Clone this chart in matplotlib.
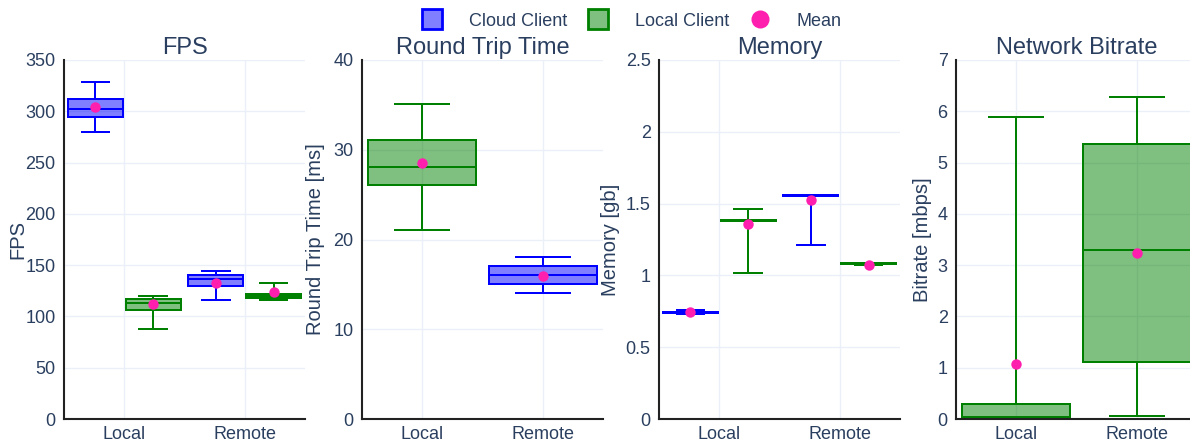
import matplotlib
matplotlib.use("Agg")
import matplotlib.pyplot as plt
from matplotlib.lines import Line2D

# ---------------- data ----------------
categories = ["Local", "Remote"]
stat_order = ["whislo", "q1", "med", "q3", "whishi"]

# FPS: per category [whislo, q1, med, q3, whishi]
fps_cloud = [[280, 294.7, 302.2, 312, 328.2], [115.9, 129.6, 136.1, 140, 143.9]]
fps_cloud_mean = [303.8, 132.5]
fps_local = [[87.6, 105.8, 112.7, 116.9, 119.5], [115.6, 117.5, 119.8, 121.8, 132.2]]
fps_local_mean = [111.7, 124.1]

# Round trip time: Local only measured with local client, Remote with cloud client
rtt_local = [[21.1, 26.1, 28.1, 31.1, 35.1]]
rtt_local_mean = [28.5]
rtt_cloud = [[14.06, 15.07, 16.1, 17.08, 18.08]]
rtt_cloud_mean = [15.9]

# Memory
mem_cloud = [[0.728, 0.741, 0.744, 0.747, 0.760], [1.209, 1.556, 1.559, 1.562, 1.562]]
mem_cloud_mean = [0.742, 1.528]
mem_local = [[1.019, 1.381, 1.384, 1.387, 1.460], [1.075, 1.079, 1.081, 1.083, 1.087]]
mem_local_mean = [1.36, 1.074]

# Network bitrate (local client only)
bit_local = [[0.0, 0.013, 0.033, 0.293, 5.88], [0.059, 1.113, 3.29, 5.366, 6.28]]
bit_local_mean = [1.068, 3.23]

# ---------------- style ----------------
BLUE = "#0000ff"
GREEN = "#008000"
PINK = "#ff1fae"
TXT = "#2a3f5f"
GRID = "#ebf0f8"
LW = 1.44

plt.rcParams["font.family"] = ["Liberation Sans", "DejaVu Sans"]

fig = plt.figure(figsize=(11.9, 4.45), dpi=100)
W, H = 1190, 445
lefts = [64, 362, 659, 956]
aw = 241
top, bottom = 60, 419


def make_stats(arr):
    out = []
    for s in arr:
        d = dict(zip(stat_order, s))
        d["fliers"] = []
        out.append(d)
    return out


def draw(ax, stats, means, positions, color, width):
    face = (0, 0, 1, 0.5) if color == BLUE else (0, 0.5, 0, 0.5)
    ax.bxp(make_stats(stats), positions=positions, widths=width,
           capwidths=width * 0.5, patch_artist=True, showfliers=False,
           boxprops=dict(facecolor=face, edgecolor=color, linewidth=LW),
           medianprops=dict(color=color, linewidth=LW),
           whiskerprops=dict(color=color, linewidth=LW),
           capprops=dict(color=color, linewidth=LW),
           manage_ticks=False, zorder=3)
    ax.plot(positions, means, "o", color=PINK, markersize=7.5,
            markeredgewidth=0, zorder=5)


titles = ["FPS", "Round Trip Time", "Memory", "Network Bitrate"]
ylabels = ["FPS", "Round Trip Time [ms]", "Memory [gb]", "Bitrate [mbps]"]
ylims = [(0, 350), (0, 40), (0, 2.5), (0, 7)]
yticks = [list(range(0, 351, 50)), [0, 10, 20, 30, 40],
          [0, 0.5, 1, 1.5, 2, 2.5], list(range(0, 8))]
ytlabels = [None, None, ["0", "0.5", "1", "1.5", "2", "2.5"], None]
ylabel_x = [-0.154, -0.154, -0.162, -0.10]

axes = []
for i in range(4):
    ax = fig.add_axes([lefts[i] / W, (H - bottom) / H, aw / W, (bottom - top) / H])
    axes.append(ax)

off = 0.24
gw = 0.455
fw = 0.9
x = list(range(len(categories)))

draw(axes[0], fps_cloud, fps_cloud_mean, [c - off for c in x], BLUE, gw)
draw(axes[0], fps_local, fps_local_mean, [c + off for c in x], GREEN, gw)

draw(axes[1], rtt_local, rtt_local_mean, [0], GREEN, fw)
draw(axes[1], rtt_cloud, rtt_cloud_mean, [1], BLUE, fw)

draw(axes[2], mem_cloud, mem_cloud_mean, [c - off for c in x], BLUE, gw)
draw(axes[2], mem_local, mem_local_mean, [c + off for c in x], GREEN, gw)

draw(axes[3], bit_local, bit_local_mean, x, GREEN, fw)

for i, ax in enumerate(axes):
    ax.set_xlim(-0.5, 1.5)
    ax.set_ylim(*ylims[i])
    ax.set_xticks(x)
    ax.set_xticklabels(categories)
    ax.set_yticks(yticks[i])
    if ytlabels[i]:
        ax.set_yticklabels(ytlabels[i])
    ax.grid(True, color=GRID, linewidth=1.0, zorder=0)
    ax.set_axisbelow(True)
    for s in ["top", "right"]:
        ax.spines[s].set_visible(False)
    for s in ["left", "bottom"]:
        ax.spines[s].set_color("#222222")
        ax.spines[s].set_linewidth(1.5)
        ax.spines[s].set_zorder(6)
    ax.tick_params(axis="both", length=0, colors=TXT, labelsize=13)
    ax.tick_params(axis="y", pad=6)
    ax.tick_params(axis="x", pad=5)
    ax.set_title(titles[i], fontsize=17, color=TXT, pad=4)
    ax.set_ylabel(ylabels[i], fontsize=14.5, color=TXT)
    ax.yaxis.set_label_coords(ylabel_x[i], 0.5)

handles = [
    Line2D([], [], linestyle="none", marker="s", markersize=15,
           markerfacecolor=(0, 0, 1, 0.5), markeredgecolor=BLUE, markeredgewidth=2),
    Line2D([], [], linestyle="none", marker="s", markersize=15,
           markerfacecolor=(0, 0.5, 0, 0.5), markeredgecolor=GREEN, markeredgewidth=2),
    Line2D([], [], linestyle="none", marker="o", markersize=13,
           markerfacecolor=PINK, markeredgewidth=0),
]
leg = fig.legend(handles, ["Cloud Client", "Local Client", "Mean"], loc="center",
                 bbox_to_anchor=(628 / W, 1 - 21 / H), ncol=3, frameon=False,
                 fontsize=13, handletextpad=1.05, columnspacing=0.7)
for t in leg.get_texts():
    t.set_color(TXT)

fig.savefig("out.png", dpi=100)
